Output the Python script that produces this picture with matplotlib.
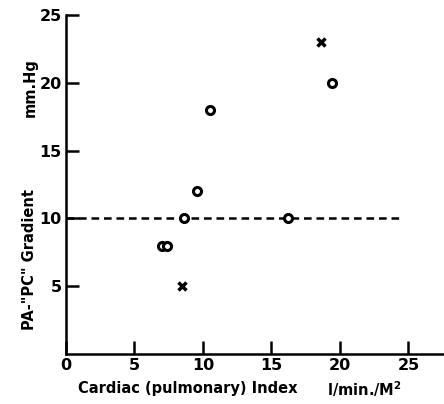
import matplotlib
matplotlib.use("Agg")
import matplotlib.pyplot as plt

# data
circle_x = [7.0, 7.4, 8.6, 9.6, 10.5, 16.2, 19.4]
circle_y = [8, 8, 10, 12, 18, 10, 20]
cross_x = [8.5, 18.6]
cross_y = [5, 23]
ref_x = [0, 24.6]
ref_y = [10, 10]

x_ticks = [0, 5, 10, 15, 20, 25]
y_ticks = [5, 10, 15, 20, 25]

plt.rcParams['font.family'] = 'DejaVu Sans'
plt.rcParams['font.weight'] = 'bold'
plt.rcParams['lines.scale_dashes'] = False

fig = plt.figure(figsize=(4.44, 4.04), dpi=100)
ax = fig.add_axes([66 / 444, 1 - 354 / 404, 1 - 66 / 444, (354 - 15) / 404])

ax.plot(ref_x, ref_y, color='black', lw=1.8, linestyle=(0, (5.5, 3.5)))
ax.plot(circle_x, circle_y, 'o', ms=5.8, mfc='white', mec='black', mew=2.2)
ax.plot(cross_x, cross_y, 'x', ms=5.5, color='black', mew=2.5)

ax.set_xlim(0, 27.6)
ax.set_ylim(0, 25)
ax.set_xticks(x_ticks)
ax.set_yticks(y_ticks)
ax.spines['top'].set_visible(False)
ax.spines['right'].set_visible(False)
for s in ['left', 'bottom']:
    ax.spines[s].set_linewidth(1.8)
ax.tick_params(direction='in', length=9.5, width=1.8, labelsize=11.5, pad=3)

fig.text(30 / 444, 1 - 88 / 404, 'mm.Hg', rotation=90, ha='center', va='center',
         fontsize=10.5, fontweight='bold')
fig.text(30 / 444, 1 - 260 / 404, 'PA-"PC" Gradient', rotation=90, ha='center', va='center',
         fontsize=10.5, fontweight='bold')
fig.text(78 / 444, 1 - 389 / 404, 'Cardiac (pulmonary) Index', ha='left', va='center',
         fontsize=10.5, fontweight='bold')
fig.text(327 / 444, 1 - 389 / 404, r'l/min./M$^\mathbf{2}$', ha='left', va='center',
         fontsize=10.5, fontweight='bold')

fig.savefig('out.png', dpi=100)
